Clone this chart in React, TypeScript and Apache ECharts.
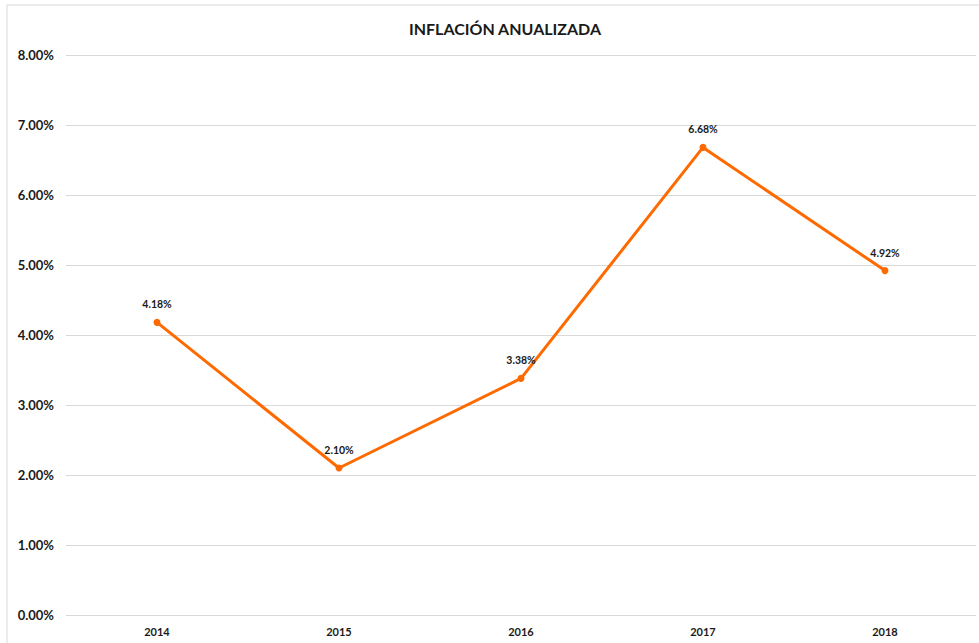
import React, { useEffect, useRef } from "react";
import * as echarts from "echarts";

const categories = ["2014", "2015", "2016", "2017", "2018"];
const inflation = [4.18, 2.1, 3.38, 6.68, 4.92];
const yTicks = [0, 1, 2, 3, 4, 5, 6, 7, 8];
const titleText = "INFLACIÓN ANUALIZADA";

const FONT = "Lato, 'Open Sans', sans-serif";

export default function App() {
  const ref = useRef<HTMLDivElement>(null);
  useEffect(() => {
    if (!ref.current) return;
    const chart = echarts.init(ref.current, null, { renderer: "svg" });
    chart.setOption({
      animation: false,
      backgroundColor: "#ffffff",
      title: {
        text: titleText,
        left: 500,
        top: 15,
        textAlign: "center",
        textStyle: { fontFamily: FONT, fontSize: 16, fontWeight: "bold", color: "#1a1a1a" },
      },
      graphic: [
        { type: "line", shape: { x1: 7, y1: 5, x2: 979, y2: 5 }, style: { stroke: "#d9d9d9", lineWidth: 1 } },
        { type: "line", shape: { x1: 7, y1: 5, x2: 7, y2: 643 }, style: { stroke: "#d9d9d9", lineWidth: 1 } },
      ],
      grid: { left: 66, right: 3, top: 55, bottom: 28, containLabel: false },
      xAxis: {
        type: "category",
        data: categories,
        boundaryGap: true,
        axisLine: { show: false },
        axisTick: { show: false },
        axisLabel: { fontFamily: FONT, fontSize: 11, fontWeight: "bold", color: "#1a1a1a", margin: 11 },
      },
      yAxis: {
        type: "value",
        min: yTicks[0],
        max: yTicks[yTicks.length - 1],
        interval: 1,
        axisLine: { show: false },
        axisTick: { show: false },
        splitLine: { lineStyle: { color: "#d9d9d9", width: 1 } },
        axisLabel: {
          fontFamily: FONT,
          fontSize: 13,
          fontWeight: "bold",
          color: "#1a1a1a",
          margin: 12,
          formatter: (v: number) => v.toFixed(2) + "%",
        },
      },
      series: [
        {
          type: "line",
          data: inflation,
          symbol: "circle",
          symbolSize: 7,
          lineStyle: { color: "#ff6a00", width: 3 },
          itemStyle: { color: "#ff6a00" },
          label: {
            show: true,
            position: "top",
            distance: 9,
            fontFamily: FONT,
            fontSize: 10.5,
            fontWeight: "bold",
            color: "#1a1a1a",
            formatter: (p: any) => p.value.toFixed(2) + "%",
          },
        },
      ],
    });
    return () => chart.dispose();
  }, []);
  return (
    <div
      ref={ref}
      style={{ position: "fixed", left: 0, top: 0, width: 979, height: 643, background: "#fff" }}
    />
  );
}
